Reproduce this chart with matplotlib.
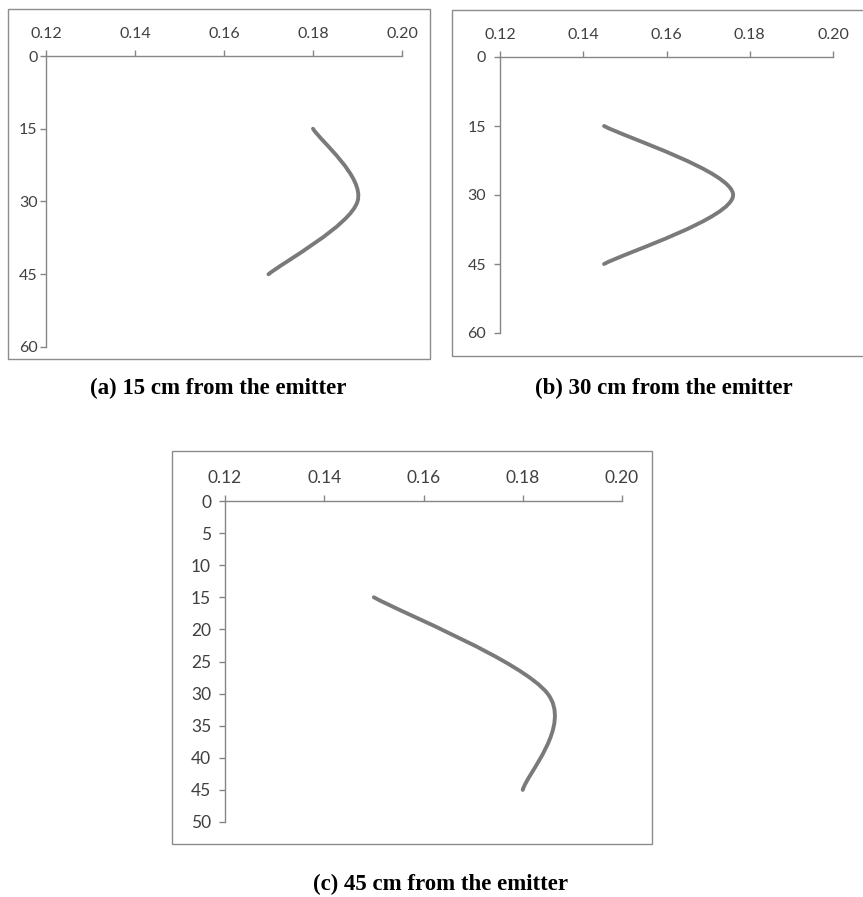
import matplotlib
matplotlib.use("Agg")
import matplotlib.pyplot as plt
from matplotlib.path import Path
from matplotlib.patches import PathPatch, Rectangle

# depth below surface (cm) and water content, one list per panel
depth_a = [15, 30, 45]
theta_a = [0.180, 0.190, 0.170]

depth_b = [15, 30, 45]
theta_b = [0.145, 0.176, 0.145]

depth_c = [15, 30, 45]
theta_c = [0.150, 0.185, 0.180]

x_ticks = [0.12, 0.14, 0.16, 0.18, 0.20]
y_ticks_ab = [0, 15, 30, 45, 60]
y_ticks_c = [0, 5, 10, 15, 20, 25, 30, 35, 40, 45, 50]

captions = ["(a) 15 cm from the emitter",
            "(b) 30 cm from the emitter",
            "(c) 45 cm from the emitter"]

W, H = 863, 897
AXIS_GREY = "#868686"
TEXT_GREY = "#404040"
LINE_GREY = "#7a7a7a"

fig = plt.figure(figsize=(W / 100, H / 100), dpi=100)


def px_axes(left, right, top, bottom):
    return fig.add_axes([left / W, 1 - bottom / H, (right - left) / W, (bottom - top) / H])


def frame(x0, x1, y0, y1):
    fig.add_artist(Rectangle((x0 / W, 1 - y1 / H), (x1 - x0) / W, (y1 - y0) / H,
                             transform=fig.transFigure, fill=False,
                             edgecolor="#8c8c8c", linewidth=1.0))


def smooth_path(xs, ys):
    # excel-style smoothed line: bezier with control points from neighbours
    pts = list(zip(xs, ys))
    verts = [pts[0]]
    codes = [Path.MOVETO]
    n = len(pts)
    for i in range(n - 1):
        p0 = pts[i - 1] if i > 0 else pts[i]
        p1 = pts[i]
        p2 = pts[i + 1]
        p3 = pts[i + 2] if i + 2 < n else pts[i + 1]
        c1 = (p1[0] + (p2[0] - p0[0]) / 6, p1[1] + (p2[1] - p0[1]) / 6)
        c2 = (p2[0] - (p3[0] - p1[0]) / 6, p2[1] - (p3[1] - p1[1]) / 6)
        verts += [c1, c2, p2]
        codes += [Path.CURVE4] * 3
    return Path(verts, codes)


def style(ax, yticks, ymax, fs, ypad):
    ax.set_xlim(0.12, 0.20)
    ax.set_ylim(ymax, 0)
    ax.set_xticks(x_ticks)
    ax.set_xticklabels([f"{t:.2f}" for t in x_ticks])
    ax.set_yticks(yticks)
    ax.xaxis.tick_top()
    for s in ["right", "bottom"]:
        ax.spines[s].set_visible(False)
    for s in ["left", "top"]:
        ax.spines[s].set_color(AXIS_GREY)
        ax.spines[s].set_linewidth(1.0)
    ax.tick_params(axis="x", direction="out", length=4, width=1.0, color=AXIS_GREY,
                   labelcolor=TEXT_GREY, labelsize=fs, pad=7)
    ax.tick_params(axis="y", direction="out", length=4, width=1.0, color=AXIS_GREY,
                   labelcolor=TEXT_GREY, labelsize=fs, pad=ypad)
    for lab in ax.get_xticklabels() + ax.get_yticklabels():
        lab.set_fontfamily("Lato")
    ax.patch.set_alpha(0)


def curve(ax, xs, ys):
    ax.add_patch(PathPatch(smooth_path(xs, ys), fill=False, edgecolor=LINE_GREY,
                           linewidth=2.8, capstyle="round", clip_on=False))


# panel boxes
frame(8, 430, 9, 359)
frame(452, 880, 10, 356)
frame(172, 652, 451, 844)

ax_a = px_axes(46, 402, 56, 347)
style(ax_a, y_ticks_ab, 60, 11.5, 2)
curve(ax_a, theta_a, depth_a)

ax_b = px_axes(500, 833, 57, 333)
style(ax_b, y_ticks_ab, 60, 11.5, 6)
curve(ax_b, theta_b, depth_b)

ax_c = px_axes(225, 622, 501, 822)
style(ax_c, y_ticks_c, 50, 12.5, 6)
curve(ax_c, theta_c, depth_c)

cap_kw = dict(ha="center", va="center", fontsize=16.5, fontweight="bold",
              family="Liberation Serif", color="black")
fig.text(218 / W, 1 - 388 / H, captions[0], **cap_kw)
fig.text(664 / W, 1 - 388 / H, captions[1], **cap_kw)
fig.text(440 / W, 1 - 884 / H, captions[2], **cap_kw)

fig.savefig("out.png", dpi=100)
